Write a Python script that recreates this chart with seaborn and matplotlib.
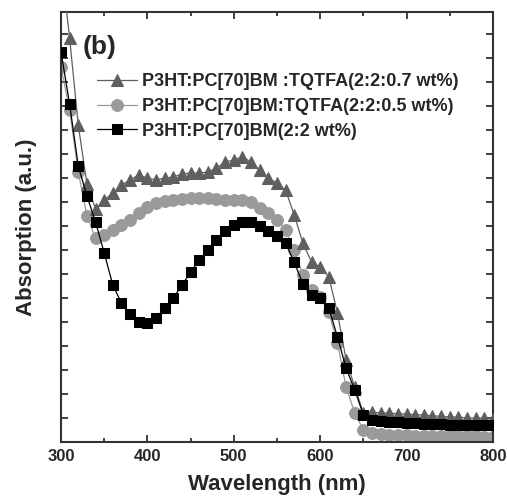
import matplotlib
matplotlib.use("Agg")
import matplotlib.pyplot as plt
import seaborn as sns
import numpy as np
import pandas as pd
from matplotlib.ticker import MultipleLocator, NullFormatter

# wavelength grid (nm), one point every 10 nm
wavelength = list(range(300, 810, 10))

# P3HT:PC[70]BM:TQTFA (2:2:0.7 wt%) - triangles
abs_07 = [2.00, 1.683, 1.321, 1.075, 0.971, 1.008, 1.038, 1.071, 1.092, 1.113,
          1.100, 1.092, 1.100, 1.104, 1.117, 1.121, 1.121, 1.125, 1.142, 1.167,
          1.175, 1.188, 1.167, 1.133, 1.100, 1.079, 1.050, 0.946, 0.829, 0.750,
          0.729, 0.688, 0.538, 0.342, 0.229, 0.121, 0.125, 0.121, 0.121, 0.117,
          0.117, 0.113, 0.113, 0.108, 0.108, 0.104, 0.104, 0.100, 0.100, 0.100,
          0.096]

# P3HT:PC[70]BM:TQTFA (2:2:0.5 wt%) - circles
abs_05 = [1.563, 1.383, 1.125, 0.942, 0.850, 0.863, 0.883, 0.904, 0.925, 0.954,
          0.979, 0.996, 1.004, 1.008, 1.013, 1.017, 1.017, 1.017, 1.013, 1.008,
          1.008, 1.008, 1.000, 0.975, 0.954, 0.925, 0.883, 0.800, 0.696, 0.633,
          0.604, 0.542, 0.413, 0.229, 0.121, 0.050, 0.038, 0.033, 0.031, 0.029,
          0.029, 0.027, 0.027, 0.025, 0.025, 0.025, 0.023, 0.023, 0.023, 0.021,
          0.021]

# P3HT:PC[70]BM (2:2 wt%) - squares
abs_ref = [1.625, 1.408, 1.150, 1.025, 0.917, 0.788, 0.654, 0.579, 0.533, 0.500,
           0.496, 0.517, 0.558, 0.600, 0.654, 0.708, 0.758, 0.800, 0.842, 0.879,
           0.904, 0.917, 0.917, 0.900, 0.879, 0.858, 0.829, 0.750, 0.658, 0.613,
           0.600, 0.558, 0.438, 0.308, 0.217, 0.113, 0.092, 0.088, 0.083, 0.083,
           0.079, 0.079, 0.075, 0.075, 0.075, 0.071, 0.071, 0.071, 0.071, 0.071,
           0.071]

labels = ["P3HT:PC[70]BM :TQTFA(2:2:0.7 wt%)",
          "P3HT:PC[70]BM:TQTFA(2:2:0.5 wt%)",
          "P3HT:PC[70]BM(2:2 wt%)"]

sns.set_style("ticks")
plt.rcParams['font.family'] = ['Liberation Sans', 'DejaVu Sans']
plt.rcParams['font.weight'] = 'bold'

fig = plt.figure(figsize=(5.07, 5.00), dpi=100)
ax = fig.add_axes([0.1203, 0.116, 0.852, 0.86])

sns.lineplot(x=wavelength, y=abs_07, ax=ax, color="#5f5f5f", marker="^",
             markersize=9, markeredgecolor="#5f5f5f", linewidth=0.9,
             label=labels[0], zorder=3)
sns.lineplot(x=wavelength, y=abs_05, ax=ax, color="#9a9a9a", marker="o",
             markersize=8.5, markeredgecolor="#9a9a9a", linewidth=0.9,
             label=labels[1], zorder=2)
sns.lineplot(x=wavelength, y=abs_ref, ax=ax, color="black", marker="s",
             markersize=7.5, markeredgecolor="black", linewidth=0.9,
             label=labels[2], zorder=4)

ax.set_xlim(300, 800)
ax.set_ylim(0, 1.792)
ax.xaxis.set_major_locator(MultipleLocator(100))
ax.xaxis.set_minor_locator(MultipleLocator(50))
ax.yaxis.set_major_locator(MultipleLocator(0.1))
ax.yaxis.set_major_formatter(NullFormatter())
ax.tick_params(which='both', direction='in', top=True, right=True,
               width=1.3, color="#333333")
ax.tick_params(which='major', length=5, labelsize=12, pad=5)
ax.tick_params(which='minor', length=3)
for lab in ax.get_xticklabels():
    lab.set_fontweight('bold')
for sp in ax.spines.values():
    sp.set_linewidth(1.5)
    sp.set_color("#333333")

ax.set_xlabel("Wavelength (nm)", fontsize=16, fontweight='bold', labelpad=7)
ax.set_ylabel("Absorption (a.u.)", fontsize=16, fontweight='bold', labelpad=12)

ax.text(0.051, 0.918, "(b)", transform=ax.transAxes, fontsize=19,
        fontweight='bold', va='center', ha='left')

leg = ax.legend(loc='upper left', bbox_to_anchor=(0.083, 0.857), frameon=False,
                borderaxespad=0, borderpad=0, handlelength=2.2,
                handletextpad=0.3, labelspacing=0.42,
                prop={'size': 13, 'weight': 'bold'})

fig.savefig("out.png", dpi=100)
